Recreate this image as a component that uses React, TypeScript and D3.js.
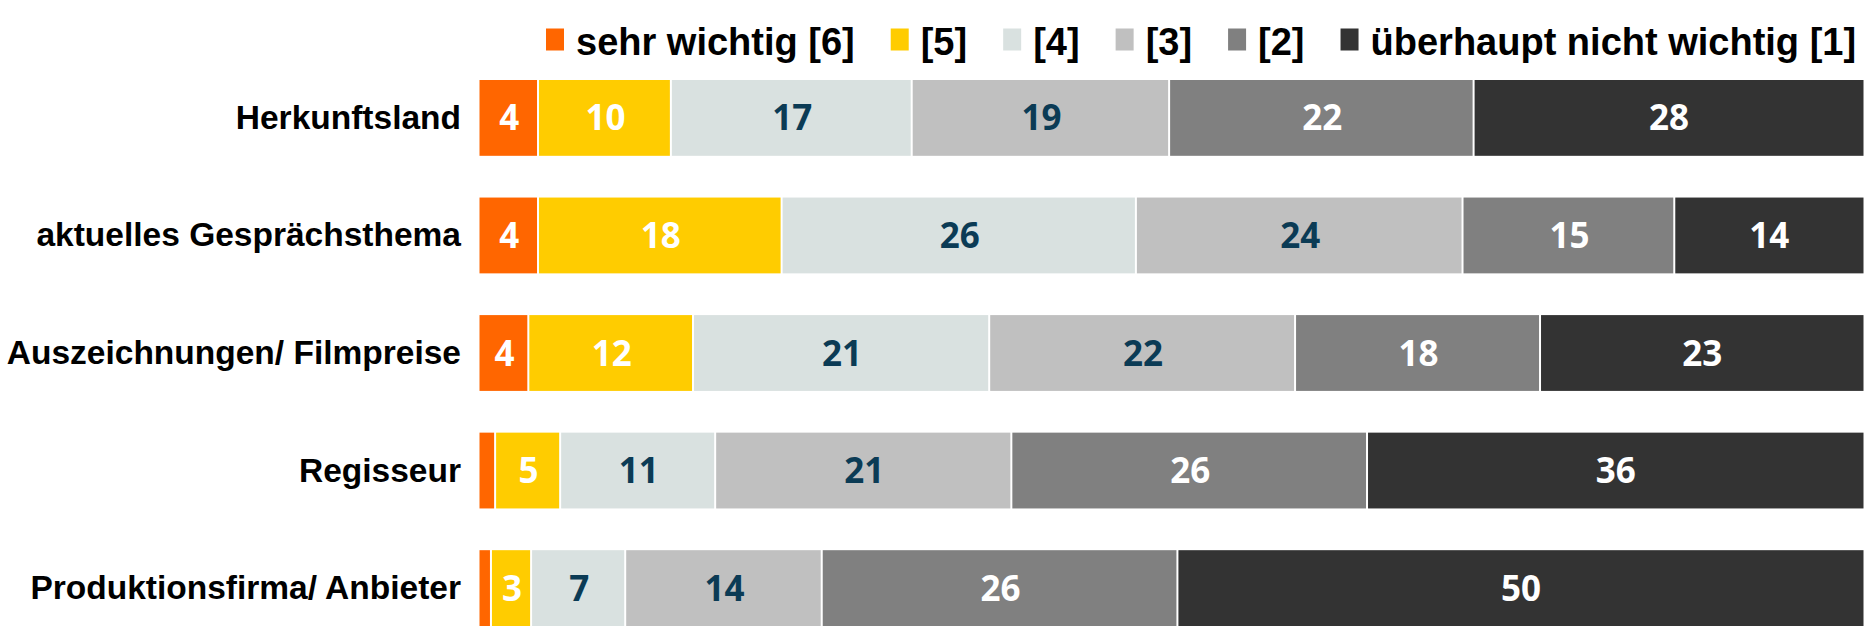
import React, { useEffect, useRef } from "react";
import * as d3 from "d3";

const categories = [
  "Herkunftsland",
  "aktuelles Gesprächsthema",
  "Auszeichnungen/ Filmpreise",
  "Regisseur",
  "Produktionsfirma/ Anbieter",
];

const seriesNames = [
  "sehr wichtig [6]",
  "[5]",
  "[4]",
  "[3]",
  "[2]",
  "überhaupt nicht wichtig [1]",
];

// values in percent, per series, in category order
const s6 = [4.3, 4.3, 3.6, 1.2, 0.9];
const s5 = [9.6, 17.6, 11.9, 4.7, 2.9];
const s4 = [17.4, 25.6, 21.4, 11.2, 6.8];
const s3 = [18.6, 23.6, 22.1, 21.4, 14.2];
const s2 = [22.0, 15.3, 17.7, 25.7, 25.7];
const s1 = [28.1, 13.6, 23.3, 35.8, 49.5];

const seriesValues = [s6, s5, s4, s3, s2, s1];
const colors = ["#FF6600", "#FFCC00", "#D9E1E0", "#C0C0C0", "#808080", "#333333"];
const labelColors = ["#FFFFFF", "#FFFFFF", "#0B3B55", "#0B3B55", "#FFFFFF", "#FFFFFF"];

export default function App() {
  const ref = useRef<SVGSVGElement | null>(null);

  useEffect(() => {
    const svg = d3.select(ref.current);
    svg.selectAll("*").remove();

    const x = d3.scaleLinear().domain([0, 100]).range([479.5, 1863.5]);
    const y = d3.scaleBand<string>().domain(categories).range([80, 626]).paddingInner(0.355).paddingOuter(0);
    const bw = y.bandwidth();

    const rows = categories.map((c, ci) => {
      let acc = 0;
      return seriesValues.map((vals, si) => {
        const v = vals[ci];
        const seg = { cat: c, si, v, x0: acc, x1: acc + v };
        acc += v;
        return seg;
      });
    });

    const g = svg.append("g");
    rows.forEach((segs) => {
      segs.forEach((s, i) => {
        const x0 = x(s.x0);
        const x1 = i === segs.length - 1 ? x(100) : x(s.x1) - 2;
        g.append("rect")
          .attr("x", x0)
          .attr("y", y(s.cat)!)
          .attr("width", Math.max(0, x1 - x0))
          .attr("height", bw)
          .attr("fill", colors[s.si]);
        if (s.v >= 2) {
          g.append("text")
            .attr("x", (x(s.x0) + x(s.x1)) / 2)
            .attr("y", y(s.cat)! + bw / 2 + 12.5)
            .attr("text-anchor", "middle")
            .attr("font-family", "'Open Sans', sans-serif")
            .attr("font-weight", 700)
            .attr("font-size", 35)
            .attr("fill", labelColors[s.si])
            .text(String(Math.round(s.v)));
        }
      });
    });

    // category labels
    svg
      .append("g")
      .selectAll("text")
      .data(categories)
      .join("text")
      .attr("x", 461)
      .attr("y", (d) => y(d)! + bw / 2 + 11)
      .attr("text-anchor", "end")
      .attr("font-family", "'Liberation Sans', Arial, sans-serif")
      .attr("font-weight", 700)
      .attr("font-size", 33.5)
      .attr("fill", "#000")
      .text((d) => d);

    // legend
    const lg = svg.append("g");
    let cx = 546;
    seriesNames.forEach((name, i) => {
      lg.append("rect")
        .attr("x", cx)
        .attr("y", 28.5)
        .attr("width", 18)
        .attr("height", 22)
        .attr("fill", colors[i]);
      const t = lg
        .append("text")
        .attr("x", cx + 30)
        .attr("y", 55)
        .attr("font-family", "'Liberation Sans', Arial, sans-serif")
        .attr("font-weight", 700)
        .attr("font-size", 38)
        .attr("fill", "#000")
        .text(name);
      const w = (t.node() as SVGTextElement).getComputedTextLength();
      cx = cx + 30 + w + 36;
    });
  }, []);

  return (
    <svg
      ref={ref}
      width={1867}
      height={628}
      style={{ position: "absolute", left: 0, top: 0, background: "#fff" }}
    />
  );
}
